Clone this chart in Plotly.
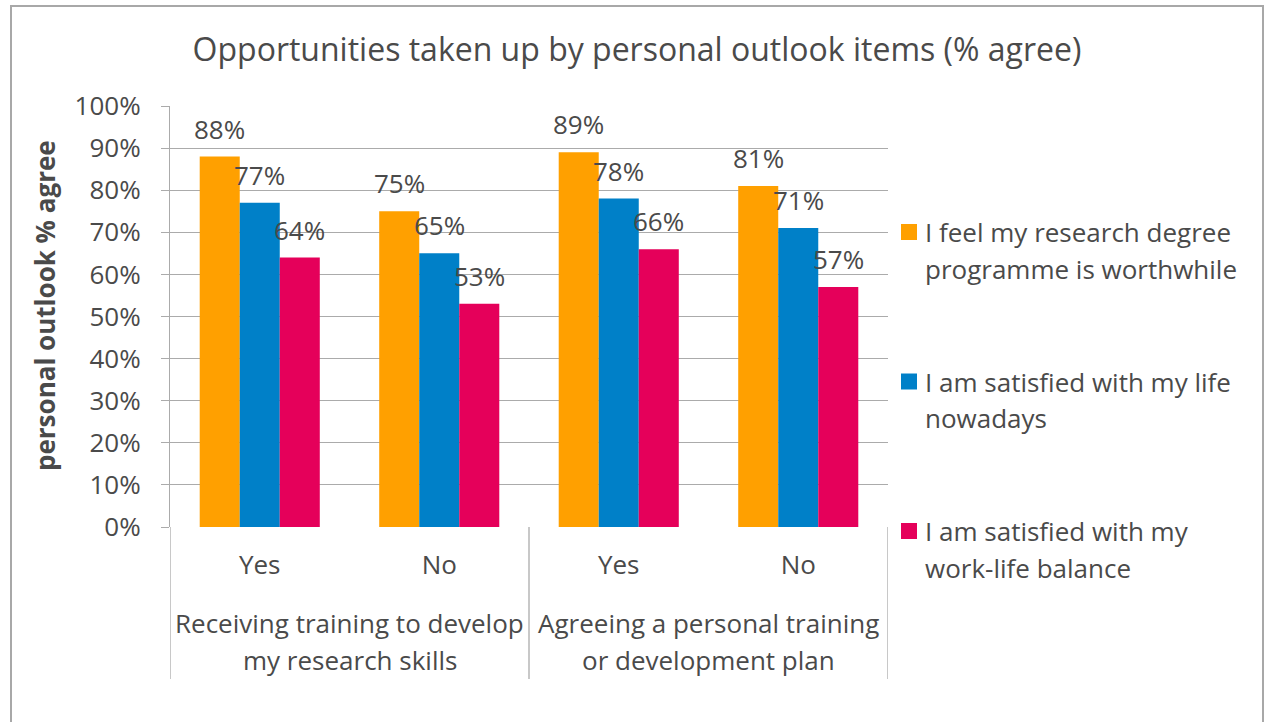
import plotly.graph_objects as go

# ---- data ----
categories = ["Yes", "No", "Yes", "No"]
group_lines = [
    ["Receiving training to develop", "my research skills"],
    ["Agreeing a personal training", "or development plan"],
]
series_lines = [
    ["I feel my research degree", "programme is worthwhile"],
    ["I am satisfied with my life", "nowadays"],
    ["I am satisfied with my", "work-life balance"],
]
worthwhile = [88, 75, 89, 81]
life_satisfaction = [77, 65, 78, 71]
work_life_balance = [64, 53, 66, 57]
series_values = [worthwhile, life_satisfaction, work_life_balance]
colors = ["#FFA000", "#0080C8", "#E5005A"]

title = "Opportunities taken up by personal outlook items (% agree)"
y_title = "personal outlook % agree"

# ---- layout constants ----
W, H = 1264, 722
L, R, T, B = 170, 376, 106, 195
PW, PH = W - L - R, H - T - B
FONT = "Open Sans"
TXT = "#4A4A4A"
GRID = "#ABABAB"
BARGAP = 0.331


def px_x(p):
    return (p - L) / PW


def px_y(p):
    return (H - B - p) / PH


positions = list(range(len(categories)))
bar_w = (1 - BARGAP) / len(series_values)

fig = go.Figure()
for k, (vals, name, col) in enumerate(zip(series_values, series_lines, colors)):
    fig.add_trace(go.Bar(
        x=positions, y=vals, name=" ".join(name),
        marker=dict(color=col, line=dict(width=0)),
        showlegend=False, hoverinfo="skip",
    ))

annotations = []
shapes = []

# value labels above each bar
for k, vals in enumerate(series_values):
    off = (k - (len(series_values) - 1) / 2) * bar_w
    for i, v in enumerate(vals):
        annotations.append(dict(
            x=positions[i] + off, y=v, xref="x", yref="y",
            text=f"{v}%", showarrow=False, yanchor="middle", yshift=28,
            font=dict(family=FONT, size=26, color=TXT),
        ))

# outer group labels and dividers
for g, lines in enumerate(group_lines):
    cx = 2 * g + 0.5
    for j, line in enumerate(lines):
        annotations.append(dict(
            x=cx, y=px_y(623 + 37 * j), xref="x", yref="paper",
            text=line, showarrow=False, yanchor="middle",
            font=dict(family=FONT, size=26, color=TXT),
        ))
for xd in [-0.5, 1.5, 3.5]:
    shapes.append(dict(type="line", xref="x", yref="paper",
                       x0=xd, x1=xd, y0=0, y1=px_y(679),
                       line=dict(color=GRID, width=1.3)))

# legend
for k, (lines, col) in enumerate(zip(series_lines, colors)):
    cy = 232 + 149.5 * k
    shapes.append(dict(type="rect", xref="paper", yref="paper",
                       x0=px_x(901), x1=px_x(917), y0=px_y(cy - 8), y1=px_y(cy + 8),
                       fillcolor=col, line=dict(width=0)))
    for j, line in enumerate(lines):
        annotations.append(dict(
            x=px_x(923), y=px_y(cy + 37 * j), xref="paper", yref="paper",
            text=line, showarrow=False, xanchor="left", yanchor="middle",
            font=dict(family=FONT, size=26, color=TXT),
        ))

# y-axis title
annotations.append(dict(
    x=px_x(45), y=px_y(306), xref="paper", yref="paper",
    text=f"<b>{y_title}</b>", textangle=-90, showarrow=False,
    xanchor="center", yanchor="middle",
    font=dict(family=FONT, size=26, color=TXT),
))

# chart border
shapes.append(dict(type="rect", xref="paper", yref="paper",
                   x0=px_x(11), x1=px_x(1263), y0=px_y(760), y1=px_y(6),
                   line=dict(color="#A8A8A8", width=2), fillcolor="rgba(0,0,0,0)",
                   layer="below"))

fig.update_layout(
    width=W, height=H,
    margin=dict(l=L, r=R, t=T, b=B, pad=0),
    paper_bgcolor="white", plot_bgcolor="white",
    barmode="group", bargap=BARGAP, bargroupgap=0,
    title=dict(text=title, x=637 / W, xref="container", xanchor="center",
               y=1 - 50 / H, yref="container", yanchor="middle",
               font=dict(family=FONT, size=32, color=TXT)),
    xaxis=dict(range=[-0.5, 3.5], tickmode="array", tickvals=positions,
               ticktext=categories, showgrid=False, zeroline=False,
               showline=False, ticks="", ticklabelstandoff=20,
               tickfont=dict(family=FONT, size=26, color=TXT), fixedrange=True),
    yaxis=dict(range=[0, 100], dtick=10, ticksuffix="%", showgrid=True,
               gridcolor=GRID, gridwidth=1.3, zeroline=False, showline=True,
               linecolor=GRID, linewidth=1.3, ticks="outside", ticklen=8,
               tickcolor=GRID, tickwidth=1.3, ticklabelstandoff=15,
               tickfont=dict(family=FONT, size=26, color=TXT), fixedrange=True),
    annotations=annotations, shapes=shapes,
    showlegend=False,
)

fig.write_html("out.html", config={"displayModeBar": False})
